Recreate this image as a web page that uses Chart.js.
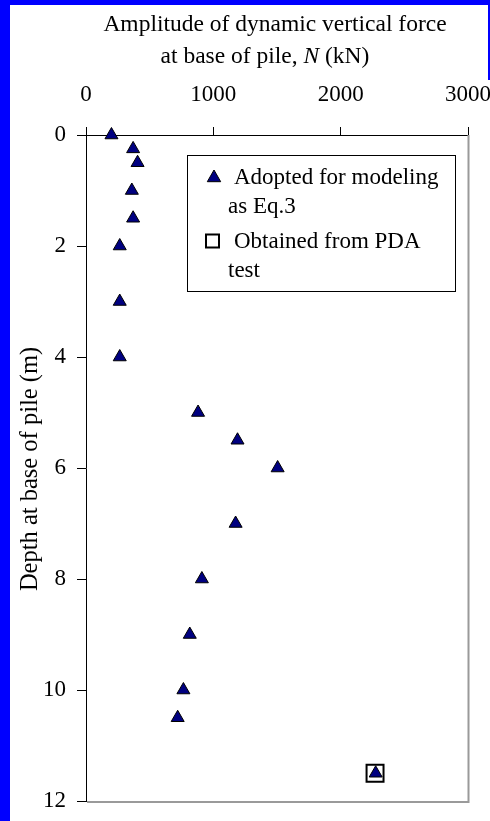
<!DOCTYPE html>
<html>
<head>
<meta charset="utf-8">
<script src="https://cdn.jsdelivr.net/npm/chart.js@4.4.1/dist/chart.umd.min.js"></script>
<style>
  html, body { margin: 0; padding: 0; background: #fff; overflow: hidden; }
  canvas { display: block; }
</style>
</head>
<body>
<canvas id="chart" width="490" height="821"></canvas>
<script>
// Depth (m) and amplitude of dynamic vertical force N (kN) at the pile base
const modelDepth = [0, 0.25, 0.5, 1, 1.5, 2, 3, 4, 5, 5.5, 6, 7, 8, 9, 10, 10.5, 11.5];
const modelForce = [200, 370, 405, 360, 370, 265, 265, 265, 880, 1190, 1505, 1175, 910, 815, 765, 720, 2275];
const pdaDepth = [11.5];
const pdaForce = [2270];

const forceTicks = [0, 1000, 2000, 3000];
const depthTicks = [0, 2, 4, 6, 8, 10, 12];

const seriesNames = [['Adopted for modeling', 'as Eq.3'], ['Obtained from PDA', 'test']];
const forceTitle = ['Amplitude of dynamic vertical force', ['at base of pile, ', 'N', ' (kN)']];
const depthTitle = 'Depth at base of pile (m)';

const SERIF = '"Liberation Serif", "Times New Roman", serif';
const FONT_SIZE = 23;
Chart.defaults.font.family = SERIF;
Chart.defaults.font.size = FONT_SIZE;
Chart.defaults.color = '#000';

function toPoints(xs, ys) {
  return xs.map((x, i) => ({ x: x, y: ys[i] }));
}

// Page frame, gray plot edges, titles and the boxed legend
const decorations = {
  id: 'decorations',
  beforeDraw(chart) {
    const ctx = chart.ctx;
    ctx.save();
    ctx.fillStyle = '#ffffff';
    ctx.fillRect(0, 0, chart.width, chart.height);
    ctx.fillStyle = '#0000ff';
    ctx.fillRect(0, 0, 10, chart.height);
    ctx.fillRect(0, 0, chart.width, 5);
    ctx.fillRect(chart.width - 2, 0, 2, 80);
    ctx.restore();
  },
  afterDraw(chart) {
    const ctx = chart.ctx;
    const a = chart.chartArea;
    ctx.save();

    // right and bottom edges of the plot
    ctx.strokeStyle = '#9a9a9a';
    ctx.lineWidth = 2;
    ctx.beginPath();
    ctx.moveTo(a.right + 0.5, a.top);
    ctx.lineTo(a.right + 0.5, a.bottom + 1);
    ctx.lineTo(a.left + 1, a.bottom + 1);
    ctx.stroke();

    // force axis title (two lines, italic N)
    ctx.fillStyle = '#000';
    ctx.textBaseline = 'alphabetic';
    ctx.textAlign = 'center';
    ctx.font = '23.5px ' + SERIF;
    ctx.fillText(forceTitle[0], 275, 31);
    const parts = forceTitle[1];
    const fonts = ['23.5px ' + SERIF, 'italic 23.5px ' + SERIF, '23.5px ' + SERIF];
    let widths = parts.map((p, i) => { ctx.font = fonts[i]; return ctx.measureText(p).width; });
    let total = widths.reduce((s, w) => s + w, 0);
    let x = 265 - total / 2;
    ctx.textAlign = 'left';
    parts.forEach((p, i) => { ctx.font = fonts[i]; ctx.fillText(p, x, 63); x += widths[i]; });

    // depth axis title
    ctx.save();
    ctx.font = '24.5px ' + SERIF;
    ctx.translate(37, 469);
    ctx.rotate(-Math.PI / 2);
    ctx.textAlign = 'center';
    ctx.fillText(depthTitle, 0, 0);
    ctx.restore();

    // legend box
    ctx.strokeStyle = '#000';
    ctx.lineWidth = 1;
    ctx.strokeRect(187.5, 155.5, 268, 136);

    // legend marker: triangle
    ctx.fillStyle = '#000080';
    ctx.lineWidth = 1;
    ctx.beginPath();
    ctx.moveTo(214, 170);
    ctx.lineTo(220.7, 181.7);
    ctx.lineTo(207.3, 181.7);
    ctx.closePath();
    ctx.fill();
    ctx.stroke();

    // legend marker: open square
    ctx.lineWidth = 2;
    ctx.strokeRect(206, 234.5, 13, 13);

    ctx.fillStyle = '#000';
    ctx.font = FONT_SIZE + 'px ' + SERIF;
    ctx.textAlign = 'left';
    ctx.fillText(seriesNames[0][0], 234, 183.5);
    ctx.fillText(seriesNames[0][1], 228, 212.5);
    ctx.fillText(seriesNames[1][0], 234, 248);
    ctx.fillText(seriesNames[1][1], 228, 277);

    ctx.restore();
  }
};

new Chart(document.getElementById('chart'), {
  type: 'scatter',
  data: {
    datasets: [
      {
        label: seriesNames[0].join(' '),
        data: toPoints(modelForce, modelDepth),
        pointStyle: 'triangle',
        pointRadius: 7.5,
        pointHoverRadius: 7.5,
        backgroundColor: '#000080',
        borderColor: '#000',
        borderWidth: 1,
        clip: false,
        order: 1
      },
      {
        label: seriesNames[1].join(' '),
        data: toPoints(pdaForce, pdaDepth),
        pointStyle: 'rect',
        pointRadius: 12,
        pointHoverRadius: 12,
        backgroundColor: 'rgba(0,0,0,0)',
        borderColor: '#000',
        borderWidth: 2,
        clip: false,
        order: 2
      }
    ]
  },
  options: {
    responsive: false,
    animation: false,
    devicePixelRatio: 1,
    layout: { padding: { left: 0, right: 22, top: 0, bottom: 20 } },
    plugins: { legend: { display: false }, tooltip: { enabled: false } },
    scales: {
      x: {
        type: 'linear',
        position: 'top',
        min: 0,
        max: 3000,
        afterBuildTicks: s => { s.ticks = forceTicks.map(v => ({ value: v })); },
        afterFit: s => { s.height = 135; s.paddingLeft = 0; s.paddingRight = 0; },
        ticks: { padding: 18, maxRotation: 0, autoSkip: false, color: '#000', font: { size: FONT_SIZE }, callback: v => String(v) },
        grid: { drawOnChartArea: false, drawTicks: true, tickLength: 8, color: '#000', lineWidth: 1 },
        border: { display: true, color: '#000', width: 1 }
      },
      y: {
        type: 'linear',
        reverse: true,
        min: 0,
        max: 12,
        afterBuildTicks: s => { s.ticks = depthTicks.map(v => ({ value: v })); },
        afterFit: s => { s.width = 86; s.paddingTop = 0; s.paddingBottom = 0; },
        ticks: { padding: 11, autoSkip: false, color: '#000', font: { size: FONT_SIZE }, callback: v => String(v) },
        grid: { drawOnChartArea: false, drawTicks: true, tickLength: 9, color: '#000', lineWidth: 1 },
        border: { display: true, color: '#000', width: 1 }
      }
    }
  },
  plugins: [decorations]
});
</script>
</body>
</html>
